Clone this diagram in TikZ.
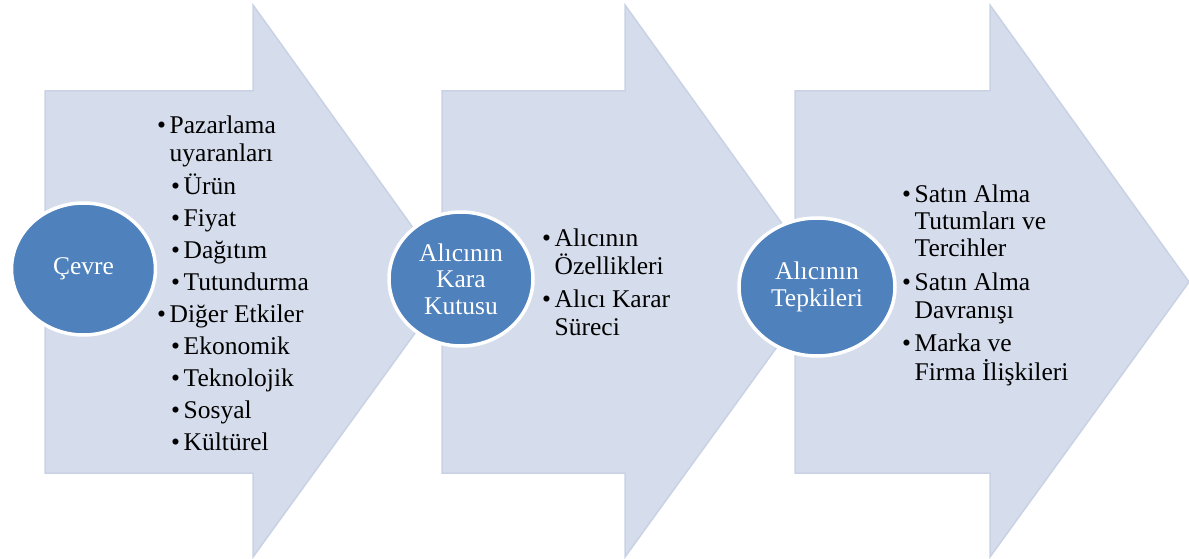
\documentclass[tikz,border=0pt]{standalone}
\usepackage{fontspec}
\setmainfont{LiberationSerif}[Extension=.ttf, UprightFont=*-Regular, BoldFont=*-Bold, ItalicFont=*-Italic, BoldItalicFont=*-BoldItalic]
\usetikzlibrary{shapes.geometric}

\definecolor{arrowfill}{RGB}{213,220,235}
\definecolor{arrowedge}{RGB}{201,210,229}
\definecolor{discfill}{RGB}{79,129,189}

% bullet with a fixed hanging width, and the matching indent for wrapped lines
\newcommand\bu{\makebox[12.5pt][l]{\textbullet}}
\newcommand\ind{\hspace*{12.5pt}}
\newcommand\subind{\hspace*{14pt}}

\begin{document}
\begin{tikzpicture}[x=1pt,y=-1pt,
  flow/.style={fill=arrowfill, draw=arrowedge, line width=1.5pt, line join=miter},
  disc/.style={ellipse, fill=discfill, draw=white, line width=3.5pt, inner sep=0pt,
               text=white, align=center, font=\fontsize{25.5}{26.5}\selectfont},
  list/.style={anchor=base west, inner sep=0pt, text=black,
               font=\fontsize{25.5}{27.5}\selectfont}]

\useasboundingbox (0,0) rectangle (1189,559);

% block arrows
\filldraw[flow] (45,91) -- (253,91) -- (253,5) -- (452,282) -- (253,557) -- (253,473) -- (45,473) -- cycle;
\filldraw[flow] (442,91) -- (625,91) -- (625,5) -- (824,282) -- (625,557) -- (625,473) -- (442,473) -- cycle;
\filldraw[flow] (795,91) -- (990,91) -- (990,5) -- (1189,282) -- (990,557) -- (990,473) -- (795,473) -- cycle;

% stage discs
\node[disc, minimum width=144pt, minimum height=132pt] (env) at (83.5,269) {Çevre};
\node[disc, minimum width=144pt, minimum height=134pt] (box) at (461,279) {Alıcının\\Kara\\Kutusu};
\node[disc, minimum width=156pt, minimum height=138pt] (resp) at (817,287) {Alıcının\\Tepkileri};

% bullet lists
\node[list] (envlist) at (157,134) {\begin{tabular}[t]{@{}l@{}}
\bu Pazarlama\\
\ind uyaranları\\[4.5pt]
\subind\bu Ürün\\[4.5pt]
\subind\bu Fiyat\\[4.5pt]
\subind\bu Dağıtım\\[4.5pt]
\subind\bu Tutundurma\\[4.5pt]
\bu Diğer Etkiler\\[4.5pt]
\subind\bu Ekonomik\\[4.5pt]
\subind\bu Teknolojik\\[4.5pt]
\subind\bu Sosyal\\[4.5pt]
\subind\bu Kültürel
\end{tabular}};

\node[list] (boxlist) at (542,246) {\begin{tabular}[t]{@{}l@{}}
\bu Alıcının\\
\ind Özellikleri\\[5.5pt]
\bu Alıcı Karar\\
\ind Süreci
\end{tabular}};

\node[list] (resplist) at (902,202) {\begin{tabular}[t]{@{}l@{}}
\bu Satın Alma\\
\ind Tutumları ve\\
\ind Tercihler\\[6pt]
\bu Satın Alma\\
\ind Davranışı\\[6pt]
\bu Marka ve\\
\ind Firma İlişkileri
\end{tabular}};

\end{tikzpicture}
\end{document}
